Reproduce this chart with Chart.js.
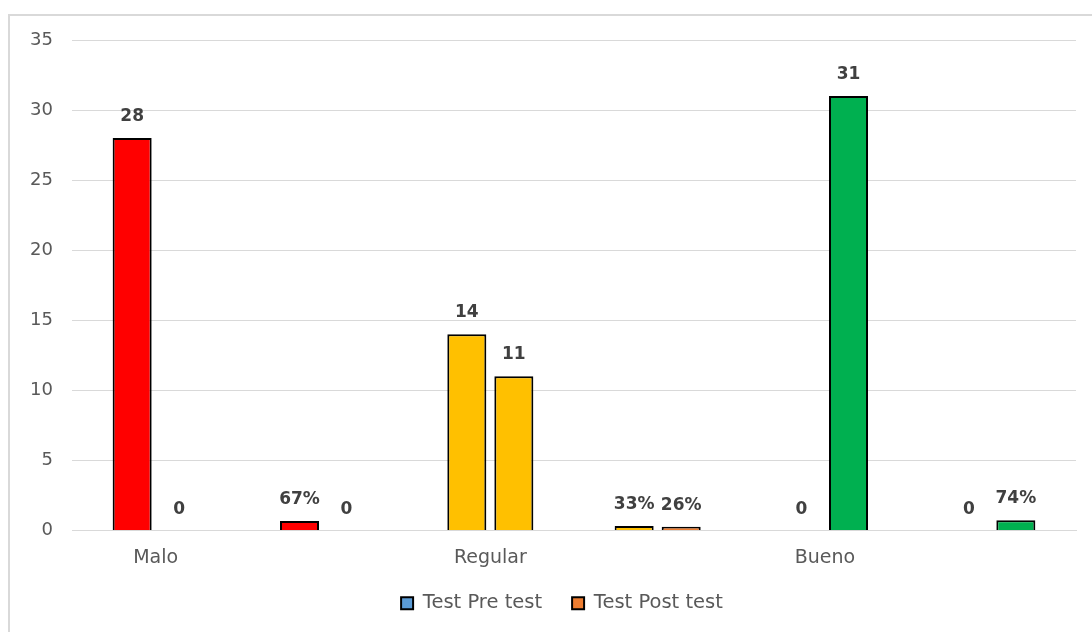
<!DOCTYPE html>
<html>
<head>
<meta charset="utf-8">
<script src="https://cdn.jsdelivr.net/npm/chart.js@4/dist/chart.umd.min.js"></script>
<style>
  html, body { margin: 0; padding: 0; background: #ffffff; overflow: hidden; }
  #frame { position: absolute; left: 8px; top: 14px; width: 1100px; height: 640px;
           border: 2px solid #D9D9D9; box-sizing: border-box; }
  #wrap { position: absolute; left: 0; top: 0; width: 1092px; height: 632px; }
</style>
</head>
<body>
<div id="frame"></div>
<div id="wrap"><canvas id="c" width="1092" height="632"></canvas></div>
<script>
// Categories: counts for each level, followed by its share of the group
const categories = ['Malo', '', 'Regular', '', 'Bueno', ''];
const preTest  = [28, 0.67, 14, 0.33, 0, 0];
const postTest = [0, 0, 11, 0.26, 31, 0.74];
const shareColumns = [false, true, false, true, false, true];
const yTicks = [0, 5, 10, 15, 20, 25, 30, 35];

const RED = '#FF0000', YELLOW = '#FFC000', GREEN = '#00B050';
const BLUE = '#5B9BD5', ORANGE = '#ED7D31';
const preColors  = [RED, RED, YELLOW, YELLOW, GREEN, GREEN];
const postColors = [RED, RED, YELLOW, ORANGE, GREEN, GREEN];

function labelText(v, i) {
  if (v === 0) return '0';
  return shareColumns[i] ? Math.round(v * 100) + '%' : String(v);
}

const FONT = "'DejaVu Sans', 'Open Sans', sans-serif";

// Value labels above each bar
const valueLabels = {
  id: 'valueLabels',
  afterDatasetsDraw(chart) {
    const ctx = chart.ctx;
    ctx.save();
    ctx.font = 'bold 17px ' + FONT;
    ctx.fillStyle = '#404040';
    ctx.textAlign = 'center';
    ctx.textBaseline = 'alphabetic';
    chart.data.datasets.forEach((ds, di) => {
      chart.getDatasetMeta(di).data.forEach((bar, i) => {
        const v = ds.data[i];
        ctx.fillText(labelText(v, i), bar.x, bar.y - 17);
      });
    });
    ctx.restore();
  }
};

// Centre the legend on the outer frame and pull it up a little
const legendOffset = {
  id: 'legendOffset',
  afterLayout(chart) {
    const lg = chart.legend;
    if (!lg) return;
    lg.left += 48;
    lg.top -= 7;
    lg.bottom -= 7;
  }
};

new Chart(document.getElementById('c'), {
  type: 'bar',
  data: {
    labels: categories,
    datasets: [
      {
        label: 'Test Pre test',
        data: preTest,
        backgroundColor: preColors,
        borderColor: '#000000',
        borderWidth: ctx => (ctx.raw === 0 ? 0 : 2),
        borderSkipped: 'bottom',
        categoryPercentage: 0.562,
        barPercentage: 0.83
      },
      {
        label: 'Test Post test',
        data: postTest,
        backgroundColor: postColors,
        borderColor: '#000000',
        borderWidth: ctx => (ctx.raw === 0 ? 0 : 2),
        borderSkipped: 'bottom',
        categoryPercentage: 0.562,
        barPercentage: 0.83
      }
    ]
  },
  options: {
    responsive: false,
    animation: false,
    layout: { padding: { top: 40, right: 16, bottom: 2, left: 0 } },
    plugins: {
      tooltip: { enabled: false },
      legend: {
        position: 'bottom',
        labels: {
          boxWidth: 12,
          boxHeight: 12,
          padding: 30,
          color: '#595959',
          font: { family: FONT, size: 19.5 },
          generateLabels: chart => chart.data.datasets.map((ds, i) => ({
            text: ds.label,
            fillStyle: i === 0 ? BLUE : ORANGE,
            strokeStyle: '#000000',
            lineWidth: 2,
            fontColor: '#595959',
            datasetIndex: i,
            hidden: false
          }))
        }
      }
    },
    scales: {
      x: {
        afterFit: scale => { scale.height = 40; },
        grid: { display: false, drawTicks: false },
        border: { display: true, color: '#D9D9D9', width: 1 },
        ticks: { color: '#595959', font: { family: FONT, size: 19 }, padding: 16.5, autoSkip: false, maxRotation: 0 }
      },
      y: {
        min: 0,
        max: 35,
        afterFit: scale => { scale.width = 72; },
        afterBuildTicks: scale => { scale.ticks = yTicks.map(v => ({ value: v })); },
        grid: { color: '#D9D9D9', drawTicks: false },
        border: { display: false },
        ticks: { color: '#595959', font: { family: FONT, size: 18 }, padding: 19 }
      }
    }
  },
  plugins: [valueLabels, legendOffset]
});
</script>
</body>
</html>
